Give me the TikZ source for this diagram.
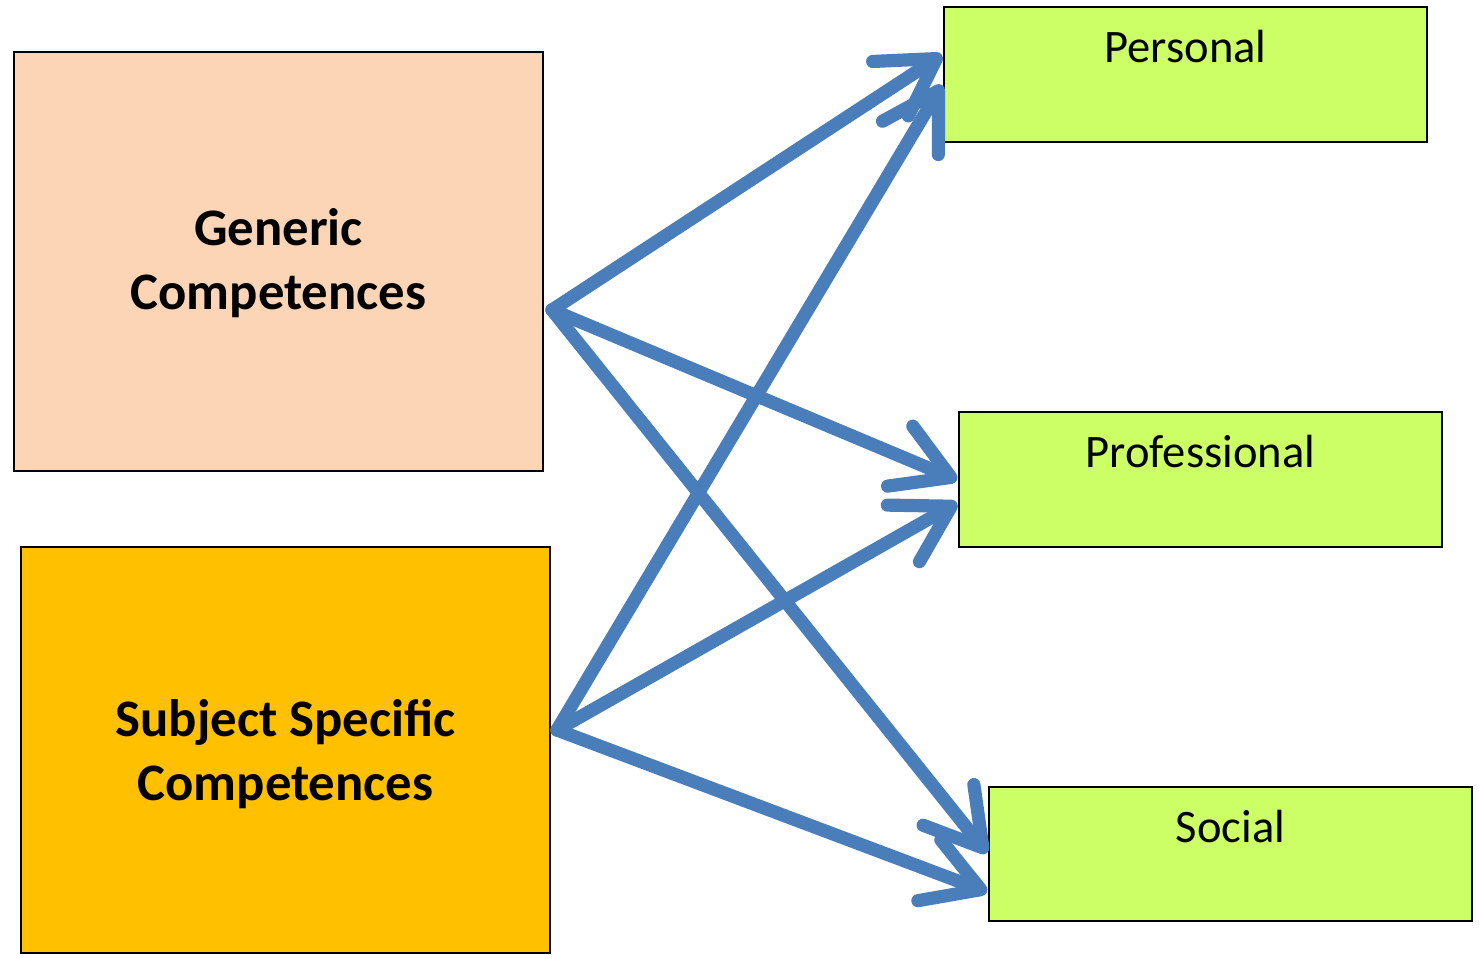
\documentclass[tikz,border=0pt]{standalone}
\usepackage{fontspec}
\setmainfont{Carlito}
\usetikzlibrary{arrows.meta,calc}
\definecolor{peach}{HTML}{FBD5B5}
\definecolor{amber}{HTML}{FFC000}
\definecolor{lime}{HTML}{CCFF66}
\definecolor{arrblue}{HTML}{4A7EBB}
\tikzset{
  compbox/.style={draw=black,line width=1.1pt,inner sep=0pt,anchor=south west},
  bigtext/.style={font=\fontsize{30}{36.4}\selectfont\bfseries,align=center},
  kindtext/.style={font=\fontsize{26.5}{30}\selectfont,anchor=center},
  flow/.style={arrblue,line width=7.5pt,line cap=round,line join=round,
    -{Straight Barb[length=1.1cm,width=1.3cm,round]}}
}
\begin{document}
\begin{tikzpicture}
  \useasboundingbox (0,0) rectangle (29.58,19.18);
  % left boxes
  \node[compbox,fill=peach,minimum width=10.58cm,minimum height=8.38cm] (gen) at (0.26,9.74) {};
  \node[compbox,fill=amber,minimum width=10.58cm,minimum height=8.12cm] (subj) at (0.40,0.10) {};
  \node[bigtext] (gentxt) at ($(gen.center)+(0,-0.03)$) {Generic\\Competences};
  \node[bigtext] (subjtxt) at ($(subj.center)+(0,-0.08)$) {Subject Specific\\Competences};
  % right boxes
  \node[compbox,fill=lime,minimum width=9.66cm,minimum height=2.70cm] (per) at (18.86,16.32) {};
  \node[compbox,fill=lime,minimum width=9.66cm,minimum height=2.70cm] (pro) at (19.16,8.22) {};
  \node[compbox,fill=lime,minimum width=9.66cm,minimum height=2.68cm] (soc) at (19.76,0.74) {};
  \node[kindtext] (pertxt) at ($(per.north)+(0,-0.8)$) {Personal};
  \node[kindtext] (protxt) at ($(pro.north)+(0,-0.8)$) {Professional};
  \node[kindtext] (soctxt) at ($(soc.north)+(0,-0.8)$) {Social};
  % arrow ends
  \coordinate (gfrom) at (11.04,12.98);
  \coordinate (sfrom) at (11.14,4.58);
  \coordinate (gper) at (18.84,18.08);
  \coordinate (sper) at (18.84,17.48);
  \coordinate (gpro) at (19.14,9.58);
  \coordinate (spro) at (19.14,9.12);
  \coordinate (gsoc) at (19.74,2.12);
  \coordinate (ssoc) at (19.74,1.34);

  \draw[flow] (gfrom) -- (gper);
  \draw[flow] (gfrom) -- (gpro);
  \draw[flow] (gfrom) -- (gsoc);
  \draw[flow] (sfrom) -- (sper);
  \draw[flow] (sfrom) -- (spro);
  \draw[flow] (sfrom) -- (ssoc);
\end{tikzpicture}
\end{document}
